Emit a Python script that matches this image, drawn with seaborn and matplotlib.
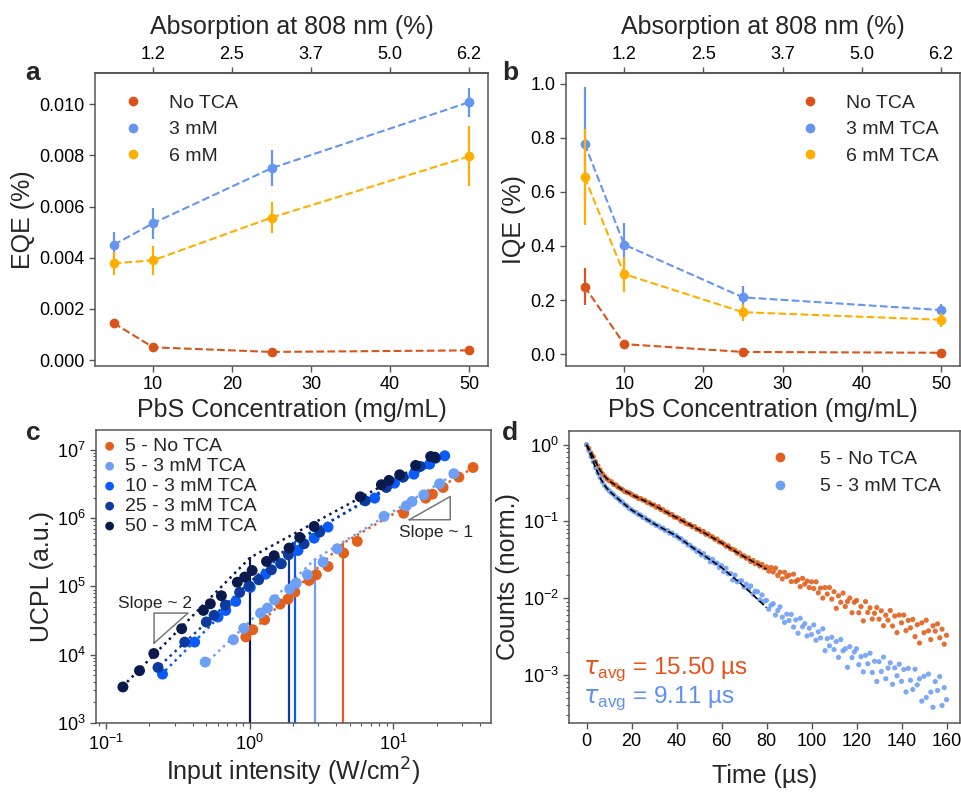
import numpy as np
import pandas as pd
import matplotlib
matplotlib.use("Agg")
import matplotlib.pyplot as plt
import seaborn as sns
from matplotlib.lines import Line2D
from matplotlib.ticker import LogLocator, NullFormatter

# ---------------- data ----------------
# panels a / b : PbS concentration (mg/mL)
conc = [5, 10, 25, 50]
abs_labels = ["1.2", "2.5", "3.7", "5.0", "6.2"]
abs_ticks = [10, 20, 30, 40, 50]

eqe_none = [0.00145, 0.00050, 0.00032, 0.00038]
eqe_none_err = [0.00004, 0.00003, 0.00002, 0.00002]
eqe_3mm = [0.00450, 0.00535, 0.00750, 0.01008]
eqe_3mm_err = [0.00052, 0.00060, 0.00070, 0.00057]
eqe_6mm = [0.00378, 0.00390, 0.00557, 0.00796]
eqe_6mm_err = [0.00045, 0.00057, 0.00062, 0.00117]

iqe_none = [0.250, 0.037, 0.008, 0.005]
iqe_none_err = [0.067, 0.004, 0.002, 0.002]
iqe_3mm = [0.778, 0.405, 0.210, 0.163]
iqe_3mm_err = [0.210, 0.079, 0.042, 0.022]
iqe_6mm = [0.655, 0.296, 0.155, 0.127]
iqe_6mm_err = [0.178, 0.065, 0.031, 0.025]

# panel c : UCPL vs input intensity
c_none_x = [0.94, 1.05, 1.27, 1.63, 1.85, 2.06, 2.59, 2.91, 3.51, 4.51, 5.61, 11.8, 16.8, 18.7, 22.2, 28.6, 35.9]
c_none_y = [1.82e4, 2.32e4, 3.25e4, 5.51e4, 6.53e4, 8.26e4, 1.22e5, 1.48e5, 1.96e5, 3.08e5, 4.56e5,
            1.18e6, 1.96e6, 2.24e6, 2.81e6, 3.98e6, 5.51e6]
c_5_x = [0.49, 0.77, 0.91, 1.19, 1.33, 1.49, 1.90, 2.11, 2.52, 3.24, 4.07, 8.61, 12.3, 13.5, 16.3, 21.0, 26.4]
c_5_y = [7.8e3, 1.66e4, 2.43e4, 4.07e4, 4.82e4, 6.38e4, 9.14e4, 1.12e5, 1.48e5, 2.27e5, 3.56e5,
         1.06e6, 1.51e6, 1.75e6, 2.19e6, 3.18e6, 4.46e6]
c_10_x = [0.247, 0.414, 0.602, 0.681, 0.80, 1.01, 1.29, 1.64, 2.17, 2.81, 3.51, 7.41, 10.2, 13.9, 17.9, 22.8]
c_10_y = [5.2e3, 1.53e4, 3.56e4, 4.45e4, 6.03e4, 9.66e4, 1.51e5, 2.15e5, 3.36e5, 5.09e5, 7.38e5,
          1.96e6, 3.25e6, 4.40e6, 6.17e6, 8.17e6]
c_25_x = [0.230, 0.353, 0.499, 0.565, 0.677, 0.851, 0.989, 1.155, 1.416, 1.66, 1.86, 2.39, 3.07,
          6.38, 8.94, 11.7, 15.4, 19.7]
c_25_y = [6.5e3, 1.53e4, 3.01e4, 3.77e4, 5.33e4, 8.17e4, 1.02e5, 1.25e5, 1.75e5, 2.15e5, 2.90e5, 4.21e5, 6.24e5,
          1.79e6, 2.81e6, 3.98e6, 5.70e6, 7.55e6]
c_50_x = [0.131, 0.171, 0.215, 0.336, 0.476, 0.532, 0.635, 0.82, 0.923, 1.04, 1.31, 1.48, 1.88, 2.23, 2.81,
          5.89, 8.26, 9.33, 11.07, 14.3, 18.2, 19.4]
c_50_y = [3.37e3, 5.84e3, 1.04e4, 2.40e4, 4.45e4, 5.57e4, 7.30e4, 1.15e5, 1.37e5, 1.71e5, 2.32e5, 2.81e5,
          3.64e5, 5.21e5, 7.55e5, 2.05e6, 3.08e6, 3.56e6, 4.31e6, 5.90e6, 7.98e6, 7.80e6]

# two-segment power-law fits (start, threshold, end)
fit_none_x = [0.93, 4.47, 38]
fit_none_y = [1.75e4, 4.3e5, 5.8e6]
fit_5_x = [0.48, 2.85, 27]
fit_5_y = [7.0e3, 2.5e5, 4.5e6]
fit_10_x = [0.24, 2.07, 24]
fit_10_y = [5.0e3, 4.6e5, 8.3e6]
fit_25_x = [0.22, 1.88, 20]
fit_25_y = [6.0e3, 3.9e5, 7.5e6]
fit_50_x = [0.13, 1.01, 21]
fit_50_y = [3.4e3, 2.65e5, 8.5e6]

# panel d : PL decay
time_us = list(range(0, 161))
decay_none = [
    1.00, 0.90, 0.78, 0.70, 0.60, 0.53, 0.47, 0.42, 0.39, 0.36,
    0.34, 0.33, 0.305, 0.30, 0.28, 0.27, 0.26, 0.245, 0.24, 0.235,
    0.225, 0.215, 0.212, 0.20, 0.199, 0.19, 0.188, 0.176, 0.175, 0.165,
    0.164, 0.153, 0.156, 0.143, 0.142, 0.133, 0.132, 0.123, 0.123, 0.114,
    0.113, 0.110, 0.101, 0.103, 0.0950, 0.0920, 0.0910, 0.0850, 0.0855, 0.0790,
    0.0790, 0.0735, 0.0740, 0.0680, 0.0685, 0.0640, 0.0630, 0.0585, 0.0590, 0.0540,
    0.0535, 0.0510, 0.0475, 0.0480, 0.0440, 0.0430, 0.0420, 0.0385, 0.0390, 0.0355,
    0.0355, 0.0330, 0.0335, 0.0300, 0.0310, 0.0280, 0.0290, 0.0262, 0.0275, 0.0248,
    0.0255, 0.0225, 0.0251, 0.0219, 0.0246, 0.0197, 0.0218, 0.0178, 0.0217, 0.0191,
    0.0199, 0.0164, 0.0205, 0.0165, 0.0173, 0.0141, 0.0181, 0.0152, 0.0167, 0.0137,
    0.0163, 0.0133, 0.0163, 0.0117, 0.0135, 0.0100, 0.0137, 0.0113, 0.0137, 0.0097,
    0.0121, 0.00734, 0.0107, 0.00881, 0.0116, 0.00776, 0.00902, 0.0100, 0.00644, 0.00881,
    0.00931, 0.00643, 0.00775, 0.00504, 0.00899, 0.00650, 0.00747, 0.00533, 0.00634, 0.00754,
    0.00531, 0.00681, 0.00436, 0.00599, 0.00515, 0.00688, 0.00432, 0.00583, 0.00354, 0.00602,
    0.00476, 0.00600, 0.00377, 0.00512, 0.00409, 0.00526, 0.00314, 0.00449, 0.00259, 0.00475,
    0.00354, 0.00514, 0.00374, 0.00288, 0.00435, 0.00370, 0.00461, 0.00303, 0.00393, 0.00250,
    0.00327,
]
decay_3mm = [
    1.00, 0.84, 0.70, 0.60, 0.50, 0.43, 0.375, 0.33, 0.295, 0.27,
    0.252, 0.236, 0.225, 0.208, 0.199, 0.185, 0.178, 0.165, 0.159, 0.147,
    0.142, 0.135, 0.131, 0.123, 0.121, 0.113, 0.111, 0.104, 0.102, 0.0960,
    0.0940, 0.0885, 0.0875, 0.0820, 0.0815, 0.0760, 0.0760, 0.0705, 0.0705, 0.0655,
    0.0650, 0.0605, 0.0595, 0.0545, 0.0540, 0.0495, 0.0490, 0.0450, 0.0445, 0.0405,
    0.0410, 0.0365, 0.0381, 0.0340, 0.0338, 0.0297, 0.0320, 0.0285, 0.0286, 0.0250,
    0.0266, 0.0221, 0.0245, 0.0207, 0.0209, 0.0172, 0.0199, 0.0163, 0.0167, 0.0168,
    0.0139, 0.0152, 0.0131, 0.0144, 0.0113, 0.0123, 0.0121, 0.00949, 0.0110, 0.00909,
    0.00932, 0.00716, 0.00808, 0.00846, 0.00600, 0.00688, 0.00768, 0.00563, 0.00481, 0.00617,
    0.00510, 0.00611, 0.00419, 0.00519, 0.00348, 0.00545, 0.00422, 0.00465, 0.00320, 0.00405,
    0.00335, 0.00446, 0.00282, 0.00363, 0.00302, 0.00397, 0.00206, 0.00296, 0.00238, 0.00308,
    0.00213, 0.00271, 0.00168, 0.00288, 0.00205, 0.00218, 0.00125, 0.00232, 0.00167, 0.00198,
    0.00218, 0.00135, 0.00172, 0.00109, 0.00179, 0.00139, 0.00191, 0.00107, 0.00150, 0.000816,
    0.00148, 0.00110, 0.00170, 0.000886, 0.00122, 0.00143, 0.000748, 0.00123, 0.000968, 0.00137,
    0.000819, 0.00117, 0.000596, 0.00121, 0.000846, 0.000641, 0.00118, 0.000737, 0.000886, 0.000452,
    0.000953, 0.000504, 0.00102, 0.000593, 0.000376, 0.000814, 0.000623, 0.000946, 0.000397, 0.000678,
    0.000473,
]
fit_t = [0, 2, 4, 6, 8, 10, 15, 20, 30, 40, 50, 60, 70, 80]
fit_none = [1.0, 0.794, 0.603, 0.468, 0.389, 0.339, 0.269, 0.224, 0.162, 0.112, 0.0776, 0.0525, 0.0347, 0.0238]
fit_3mm = [1.0, 0.708, 0.501, 0.372, 0.295, 0.251, 0.186, 0.141, 0.0933, 0.0646, 0.0398, 0.0251, 0.0142, 0.0075]

# ---------------- style ----------------
sns.set_theme(style="ticks")
plt.rcParams["font.family"] = ["Liberation Sans", "DejaVu Sans"]
plt.rcParams["axes.edgecolor"] = "#555555"
plt.rcParams["xtick.color"] = "#555555"
plt.rcParams["ytick.color"] = "#555555"
plt.rcParams["xtick.labelcolor"] = "black"
plt.rcParams["ytick.labelcolor"] = "black"

ORANGE = "#D9541A"
BLUE = "#6495F0"
YELLOW = "#FFAE00"
TICK_FS = 13
LAB_FS = 18
LEG_FS = 14

W, H = 962, 792
fig = plt.figure(figsize=(W / 100, H / 100), dpi=100)


def box(x0, y0, x1, y1):
    return [x0 / W, 1 - y1 / H, (x1 - x0) / W, (y1 - y0) / H]


def style_ax(ax):
    for s in ax.spines.values():
        s.set_linewidth(1.1)
    ax.tick_params(labelsize=TICK_FS, width=1.0, length=4)


def conc_panel(ax, series, ylabel, ylim, yticks, fmt, legloc, anchor):
    for name, y, err, col in series:
        df = pd.DataFrame({"conc": conc, "val": y})
        sns.lineplot(data=df, x="conc", y="val", ax=ax, color=col, linestyle="--",
                     lw=1.5, marker="o", markersize=7, markeredgewidth=0, label=name)
        ax.errorbar(conc, y, yerr=err, fmt="none", ecolor=col, elinewidth=1.6)
    ax.set_xlim(2.65, 52.4)
    ax.set_ylim(*ylim)
    ax.set_xticks([10, 20, 30, 40, 50])
    ax.set_yticks(yticks)
    ax.set_yticklabels([fmt.format(v) for v in yticks])
    ax.set_xlabel("PbS Concentration (mg/mL)", fontsize=LAB_FS, labelpad=3)
    ax.set_ylabel(ylabel, fontsize=LAB_FS, labelpad=3)
    style_ax(ax)
    sec = ax.secondary_xaxis("top")
    sec.set_xticks(abs_ticks)
    sec.set_xticklabels(abs_labels)
    sec.tick_params(labelsize=TICK_FS, width=1.0, length=4)
    sec.set_xlabel("Absorption at 808 nm (%)", fontsize=LAB_FS, labelpad=8)
    leg = ax.legend(loc=legloc, bbox_to_anchor=anchor, frameon=False, fontsize=LEG_FS,
                    handlelength=0.9, handletextpad=1.4, labelspacing=0.45, borderaxespad=0.7)
    for h in leg.legend_handles:
        h.set_linestyle("none")


# ---------------- panel a ----------------
ax_a = fig.add_axes(box(95, 73, 488, 366))
conc_panel(ax_a,
           [("No TCA", eqe_none, eqe_none_err, ORANGE),
            ("3 mM", eqe_3mm, eqe_3mm_err, BLUE),
            ("6 mM", eqe_6mm, eqe_6mm_err, YELLOW)],
           "EQE (%)", (-0.00023, 0.01122), [0, 0.002, 0.004, 0.006, 0.008, 0.010], "{:.3f}",
           "upper left", (0.02, 1.0))

# ---------------- panel b ----------------
ax_b = fig.add_axes(box(566, 73, 960, 366))
conc_panel(ax_b,
           [("No TCA", iqe_none, iqe_none_err, ORANGE),
            ("3 mM TCA", iqe_3mm, iqe_3mm_err, BLUE),
            ("6 mM TCA", iqe_6mm, iqe_6mm_err, YELLOW)],
           "IQE (%)", (-0.044, 1.04), [0, 0.2, 0.4, 0.6, 0.8, 1.0], "{:.1f}",
           "upper right", (1.0, 1.0))

# ---------------- panel c ----------------
ax_c = fig.add_axes(box(96, 430, 491, 723))
c_series = [
    ("5 - No TCA", c_none_x, c_none_y, fit_none_x, fit_none_y, "#E0601C"),
    ("5 - 3 mM TCA", c_5_x, c_5_y, fit_5_x, fit_5_y, "#6E9FF6"),
    ("10 - 3 mM TCA", c_10_x, c_10_y, fit_10_x, fit_10_y, "#0A5BFA"),
    ("25 - 3 mM TCA", c_25_x, c_25_y, fit_25_x, fit_25_y, "#0D3A9E"),
    ("50 - 3 mM TCA", c_50_x, c_50_y, fit_50_x, fit_50_y, "#0B1A4C"),
]
for name, xs, ys, fx, fy, col in c_series:
    sns.lineplot(x=fx, y=fy, ax=ax_c, color=col, linestyle=":", lw=1.8, sort=False)
    ax_c.vlines(fx[1], 1e3, fy[1], color=col, lw=1.6)
    sns.scatterplot(x=xs, y=ys, ax=ax_c, color=col, s=62, edgecolor="none", label=name, zorder=3)
ax_c.set_xscale("log")
ax_c.set_yscale("log")
ax_c.set_xlim(10 ** -1.07, 10 ** 1.68)
ax_c.set_ylim(1e3, 10 ** 7.29)
ax_c.xaxis.set_minor_locator(LogLocator(base=10, subs=np.arange(2, 10)))
ax_c.yaxis.set_minor_locator(LogLocator(base=10, subs=np.arange(2, 10)))
ax_c.xaxis.set_minor_formatter(NullFormatter())
ax_c.yaxis.set_minor_formatter(NullFormatter())
style_ax(ax_c)
ax_c.tick_params(which="minor", length=2.5, width=0.8)
ax_c.set_xlabel("Input intensity (W/cm$^2$)", fontsize=LAB_FS, labelpad=2)
ax_c.set_ylabel("UCPL (a.u.)", fontsize=LAB_FS, labelpad=2)
ax_c.legend(loc="upper left", frameon=False, fontsize=LEG_FS, handlelength=0.6, handletextpad=0.5,
            labelspacing=0.12, borderaxespad=0.1, markerscale=0.8, borderpad=0.3)
# slope guide triangles
ax_c.plot([0.216, 0.216, 0.372, 0.216], [1.48e4, 4.07e4, 4.07e4, 1.48e4], color="#777777", lw=1.1)
ax_c.text(0.218, 5.7e4, "Slope ~ 2", fontsize=12.5, ha="center", va="center")
ax_c.plot([12.9, 24.9, 24.9, 12.9], [9.46e5, 9.46e5, 2.07e6, 9.46e5], color="#777777", lw=1.1)
ax_c.text(19.9, 6.2e5, "Slope ~ 1", fontsize=12.5, ha="center", va="center")

# ---------------- panel d ----------------
ax_d = fig.add_axes(box(569, 431, 960, 723))
sns.scatterplot(x=time_us, y=decay_none, ax=ax_d, color="#E0601C", s=14, edgecolor="none", alpha=0.9)
sns.scatterplot(x=time_us, y=decay_3mm, ax=ax_d, color="#6E9FF6", s=14, edgecolor="none", alpha=0.9)
sns.lineplot(x=fit_t, y=fit_none, ax=ax_d, color="black", linestyle="--", lw=1.2)
sns.lineplot(x=fit_t, y=fit_3mm, ax=ax_d, color="black", linestyle="--", lw=1.2)
ax_d.set_yscale("log")
ax_d.set_xlim(-7.8, 166)
ax_d.set_ylim(10 ** -3.63, 10 ** 0.18)
ax_d.set_xticks(range(0, 161, 20))
ax_d.yaxis.set_minor_locator(LogLocator(base=10, subs=np.arange(2, 10)))
ax_d.yaxis.set_minor_formatter(NullFormatter())
style_ax(ax_d)
ax_d.tick_params(which="minor", length=2.5, width=0.8)
ax_d.set_xlabel("Time (µs)", fontsize=LAB_FS, labelpad=10)
ax_d.set_ylabel("Counts (norm.)", fontsize=LAB_FS, labelpad=2)
handles = [Line2D([], [], ls="none", marker="o", ms=7, mec="none", color="#E0601C"),
           Line2D([], [], ls="none", marker="o", ms=7, mec="none", color="#6E9FF6")]
ax_d.legend(handles, ["5 - No TCA", "5 - 3 mM TCA"], loc="upper right", frameon=False,
            fontsize=LEG_FS, handlelength=0.9, handletextpad=1.6, labelspacing=0.5,
            borderaxespad=0.6)
ax_d.text(0.035, 0.185, r"$\tau_{\mathdefault{avg}}$ = 15.50 µs", transform=ax_d.transAxes,
          fontsize=17.5, color="#E8521A", va="center")
ax_d.text(0.035, 0.085, r"$\tau_{\mathdefault{avg}}$ = 9.11 µs", transform=ax_d.transAxes,
          fontsize=17.5, color="#5E8EF8", va="center")

# panel letters
for lbl, (px, py) in zip("abcd", [(33, 73), (510, 73), (33, 433), (510, 433)]):
    fig.text(px / W, 1 - py / H, lbl, fontsize=19, fontweight="bold", ha="center", va="center")

fig.savefig("out.png", dpi=100)
